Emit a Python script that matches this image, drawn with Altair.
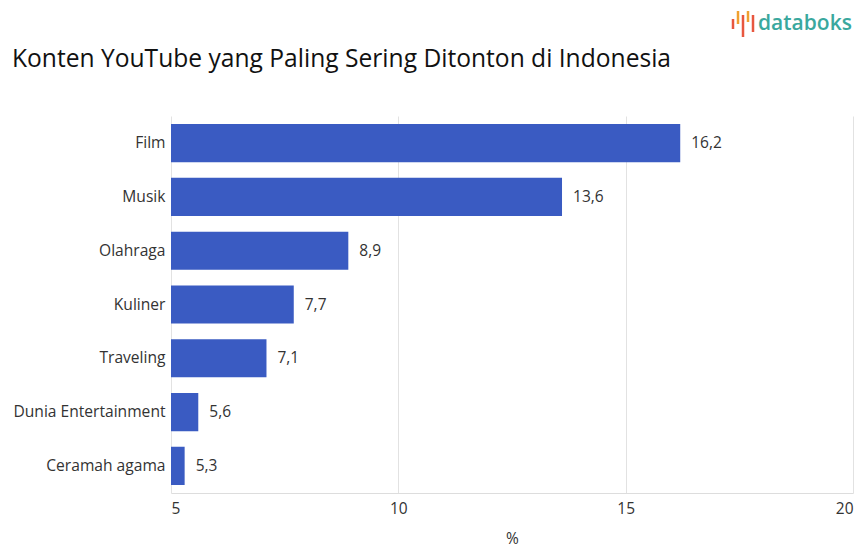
import altair as alt
import pandas as pd

categories = ["Film", "Musik", "Olahraga", "Kuliner", "Traveling", "Dunia Entertainment", "Ceramah agama"]
values = [16.2, 13.6, 8.9, 7.7, 7.1, 5.6, 5.3]
value_labels = ["16,2", "13,6", "8,9", "7,7", "7,1", "5,6", "5,3"]
x_ticks = [5, 10, 15, 20]
title_text = "Konten YouTube yang Paling Sering Ditonton di Indonesia"
logo_text = "databoks"

FONT = "Open Sans"
df = pd.DataFrame({"cat": categories, "val": values, "lab": value_labels})

y_enc = alt.Y("cat:N", sort=categories, title=None,
              scale=alt.Scale(paddingInner=0.29, paddingOuter=0.15),
              axis=alt.Axis(labelFontSize=15.6, labelColor="#333", labelFont=FONT,
                            ticks=False, domain=False, labelPadding=6, grid=False))
x_scale = alt.Scale(domain=[5, 20], nice=False, zero=False, clamp=False)

bars = alt.Chart(df).mark_bar(color="#3a5bc2", clip=True).encode(
    y=y_enc,
    x=alt.X("val:Q", scale=x_scale, title="%",
            axis=alt.Axis(values=x_ticks, labelFontSize=15.5, labelColor="#333", labelFont=FONT,
                          ticks=False, domain=True, domainColor="#dddddd", gridColor="#e2e2e2",
                          labelPadding=8, titlePadding=15, titleFontSize=15.5,
                          titleFont=FONT, titleFontWeight="normal", titleColor="#333")),
    x2=alt.value(0),
)

texts = alt.Chart(df).mark_text(align="left", baseline="middle", dx=11, fontSize=15.5,
                                font=FONT, color="#333").encode(
    y=alt.Y("cat:N", sort=categories), x=alt.X("val:Q", scale=x_scale), text="lab:N")

title = alt.Chart(pd.DataFrame({"t": [title_text]})).mark_text(
    align="left", baseline="middle", fontSize=24.6, font=FONT, color="#111").encode(
    text="t:N", x=alt.value(-159), y=alt.value(-56))

logo = alt.Chart(pd.DataFrame({"t": [logo_text]})).mark_text(
    align="left", baseline="middle", fontSize=21, font=FONT, fontWeight=600, color="#3aa89e").encode(
    text="t:N", x=alt.value(587), y=alt.value(-92))

icon_x = [562, 567, 572, 577, 582]
icon_top = [-97, -105, -101, -105, -101]
icon_bot = [-87, -92, -79, -94, -84]
icon_col = ["#e8573f", "#f0a030", "#e8573f", "#f0a030", "#e8573f"]
icons = alt.layer(*[
    alt.Chart(pd.DataFrame({"a": [0]})).mark_rule(strokeWidth=2.5, color=c).encode(
        x=alt.value(xx), y=alt.value(t), y2=alt.value(b))
    for xx, t, b, c in zip(icon_x, icon_top, icon_bot, icon_col)
])

chart = alt.layer(bars, texts, title, logo, icons).properties(
    width=682, height=377,
    autosize=alt.AutoSizeParams(type="none"),
    padding={"left": 163, "top": 108, "right": 4, "bottom": 58},
).configure_view(stroke=None)

chart.save("out.html", embed_options={"renderer": "svg", "actions": False})
